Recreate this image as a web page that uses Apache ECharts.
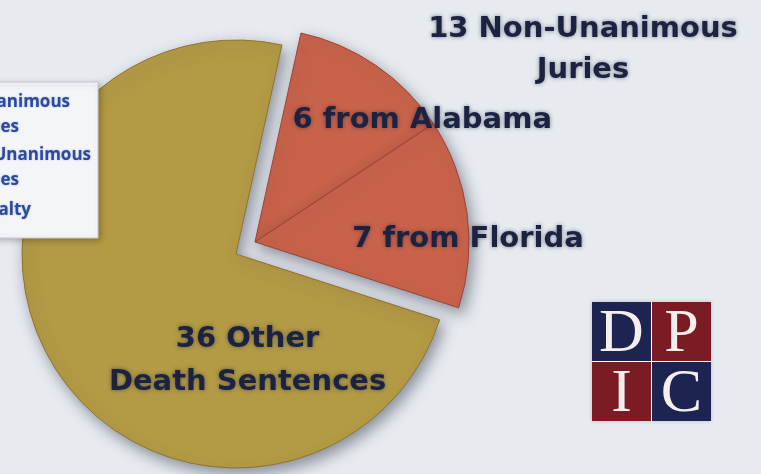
<!DOCTYPE html>
<html>
<head>
<meta charset="utf-8">
<script src="https://cdn.jsdelivr.net/npm/echarts@6/dist/echarts.min.js"></script>
<style>
  html, body { margin: 0; padding: 0; background: #e7eaef; }
  #main { width: 761px; height: 474px; }
</style>
</head>
<body>
<div id="main"></div>
<script>
// data
const categories = ['Alabama', 'Florida', 'Other']
const values = [6, 7, 36]
const labelTexts = ['6 from Alabama', '7 from Florida', '36 Other\nDeath Sentences']
const titleText = '13 Non-Unanimous\nJuries'
const legendLines = ['Unanimous', 'Juries', 'Non-Unanimous', 'Juries', 'Death Penalty']

const gold = '#b39a45'
const red = '#c9624a'
const navy = '#1b2340'
// start so the red wedge begins a little right of 12 o'clock
const startAngle = 77.6

const chartDom = document.getElementById('main')
const myChart = echarts.init(chartDom)

const labelFont = {
  color: navy,
  fontFamily: 'DejaVu Sans',
  fontWeight: 'bold',
  fontSize: 29,
  lineHeight: 43,
  textShadowColor: 'rgba(20,30,60,0.5)',
  textShadowBlur: 4
}
const labelOffsets = [[105, -31], [104, 12], [107, 52]]

function pieData (visible) {
  return categories.map(function (name, i) {
    const isRed = i < 2
    const show = visible === (isRed ? 'red' : 'gold')
    return {
      name: name,
      value: values[i],
      itemStyle: show
        ? {
            color: isRed ? red : gold,
            borderColor: isRed ? '#9a4533' : '#8d7530',
            borderWidth: 1,
            shadowBlur: 14,
            shadowOffsetX: 4,
            shadowOffsetY: 6,
            shadowColor: 'rgba(50,60,80,0.5)'
          }
        : { color: 'rgba(0,0,0,0)', borderWidth: 0 },
      label: show
        ? Object.assign({ show: true, position: 'inside', offset: labelOffsets[i], formatter: labelTexts[i] }, labelFont)
        : { show: false }
    }
  })
}

const legendChildren = [{
  type: 'rect',
  z: 100,
  shape: { x: -20, y: 82, width: 118, height: 156 },
  style: { fill: '#f3f5f8', stroke: '#c9ccd2', lineWidth: 1, shadowBlur: 6, shadowColor: 'rgba(0,0,0,0.25)', shadowOffsetX: 2, shadowOffsetY: 2 }
}]
const legendEnds = [70, 19, 91, 19, 31]
const legendYs = [102, 127, 155, 180, 210]
legendLines.forEach(function (t, i) {
  legendChildren.push({
    type: 'text',
    z: 101,
    style: {
      text: t, x: legendEnds[i], y: legendYs[i], align: 'right', verticalAlign: 'middle',
      fill: '#2b4aa0', font: 'bold 17px "Open Sans"',
      textShadowBlur: 2, textShadowColor: 'rgba(40,70,160,0.4)'
    }
  })
})

const logoX = 592
const logoY = 302
const cell = 59
const logoCells = [
  { c: 0, r: 0, fill: '#1e2451', t: 'D' },
  { c: 1, r: 0, fill: '#7b1b24', t: 'P' },
  { c: 0, r: 1, fill: '#7b1b24', t: 'I' },
  { c: 1, r: 1, fill: '#1e2451', t: 'C' }
]
const logoChildren = [{
  type: 'rect',
  shape: { x: logoX, y: logoY, width: cell * 2 + 1, height: cell * 2 + 1 },
  style: { fill: '#ffffff', shadowBlur: 4, shadowColor: 'rgba(0,0,0,0.2)' }
}]
logoCells.forEach(function (d) {
  logoChildren.push({
    type: 'rect',
    shape: { x: logoX + d.c * (cell + 1), y: logoY + d.r * (cell + 1), width: cell, height: cell },
    style: { fill: d.fill }
  })
  logoChildren.push({
    type: 'text',
    style: {
      text: d.t, x: logoX + d.c * (cell + 1) + cell / 2, y: logoY + d.r * (cell + 1) + cell / 2 + 3,
      align: 'center', verticalAlign: 'middle', fill: '#f4eeec', font: '62px "Liberation Serif"'
    }
  })
})

const option = {
  backgroundColor: '#e7eaef',
  animation: false,
  title: {
    text: titleText,
    left: 578,
    top: 4,
    textAlign: 'center',
    textStyle: Object.assign({}, labelFont, { lineHeight: 41 })
  },
  graphic: [
    { type: 'group', children: legendChildren },
    { type: 'group', children: logoChildren }
  ],
  series: [
    {
      type: 'pie',
      center: [236, 254],
      radius: 214,
      startAngle: startAngle,
      clockwise: true,
      silent: true,
      labelLine: { show: false },
      data: pieData('gold')
    },
    {
      type: 'pie',
      center: [255, 242],
      radius: 214,
      startAngle: startAngle,
      clockwise: true,
      silent: true,
      labelLine: { show: false },
      data: pieData('red')
    }
  ]
}
option && myChart.setOption(option)
</script>
</body>
</html>
